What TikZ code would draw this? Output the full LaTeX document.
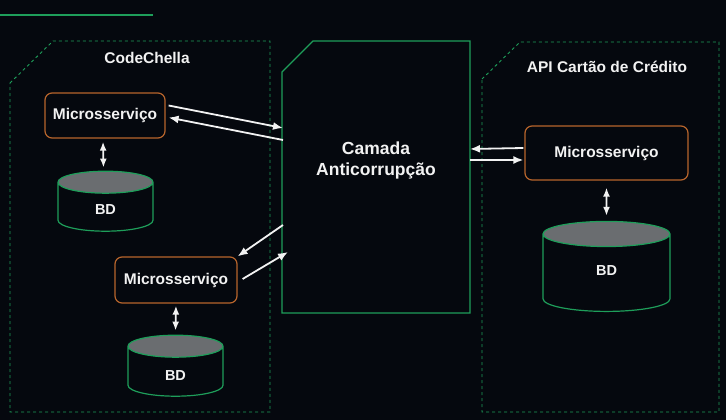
\documentclass[tikz,border=0pt]{standalone}
\usepackage{fontspec}
\setmainfont{Liberation Sans}
\usetikzlibrary{shapes.geometric,arrows.meta,calc}
\definecolor{bgdark}{HTML}{05080E}
\definecolor{edgegreen}{HTML}{1E9E5A}
\definecolor{msorange}{HTML}{B8652C}
\definecolor{bdgrey}{HTML}{6A6D70}
\definecolor{txtwhite}{HTML}{F2F2F2}
\tikzstyle{ms box}=[
        draw = msorange,
        line width = 1.2pt,
        rounded corners = 7pt,
        fill = bgdark,
        text = txtwhite,
        inner sep = 0pt,
        font = \bfseries\fontsize{15.5}{18}\selectfont
    ]
\tikzstyle{bd can}=[
        cylinder,
        shape border rotate = 90,
        draw = edgegreen,
        line width = 1.2pt,
        cylinder uses custom fill,
        cylinder end fill = bdgrey,
        cylinder body fill = bgdark,
        text = txtwhite,
        inner sep = 0pt,
        font = \bfseries\fontsize{14.5}{17}\selectfont
    ]
\newcommand{\bdlabel}[1]{\raisebox{-#1}[0pt][0pt]{BD}}

\begin{document}
\begin{tikzpicture}[x=1pt, y=1pt,
        zone/.style = {rectangle, inner sep = 0pt, outer sep = 0pt},
        zone edge/.style = {draw = edgegreen, line width = 0.9pt, dash pattern = on 3pt off 3pt},
        layer edge/.style = {draw = edgegreen, line width = 1.1pt},
        title/.style = {text = txtwhite, font = \bfseries\fontsize{15.5}{18}\selectfont},
        link/.style = {draw = txtwhite, line width = 1.8pt, -{Latex[length=10pt,width=8pt]}},
        both/.style = {draw = txtwhite, line width = 1.8pt, {Latex[length=9pt,width=7pt]}-{Latex[length=9pt,width=7pt]}}]
        \useasboundingbox (0,0) rectangle (726,420);
        \fill[bgdark] (0,0) rectangle (726,420);
        \draw[edgegreen, line width = 1.3pt] (0,405) -- (153,405);

        \node[zone, minimum width = 260pt, minimum height = 371pt] (codechella) at (140,193.5) {};
        \node[zone, minimum width = 237pt, minimum height = 370pt] (cartao) at (600.5,193) {};
        \node[zone, minimum width = 188pt, minimum height = 272pt] (camada) at (376,243) {};

        \draw[zone edge] ($(codechella.north west)+(0,-42)$) -- ($(codechella.north west)+(43,0)$)
            -- (codechella.north east) -- (codechella.south east) -- (codechella.south west) -- cycle;
        \draw[zone edge] ($(cartao.north west)+(0,-37)$) -- ($(cartao.north west)+(38,0)$)
            -- (cartao.north east) -- (cartao.south east) -- (cartao.south west) -- cycle;
        \draw[layer edge] ($(camada.north west)+(0,-31)$) -- ($(camada.north west)+(31,0)$)
            -- (camada.north east) -- (camada.south east) -- (camada.south west) -- cycle;

        \node[title] (codechella title) at (147,362) {CodeChella};
        \node[title] (cartao title) at (607,353) {API Cartão de Crédito};
        \node[text = txtwhite, align = center, font = \bfseries\fontsize{17.5}{21}\selectfont]
            (camada title) at (376,260) {Camada\\Anticorrupção};

        \node[ms box, minimum width = 120pt, minimum height = 45pt] (ms1) at (105,304.5) {Microsserviço};
        \node[ms box, minimum width = 122pt, minimum height = 46pt] (ms2) at (176,140) {Microsserviço};
        \node[ms box, minimum width = 163pt, minimum height = 54pt] (ms3) at (606.5,267) {Microsserviço};

        \node[bd can, aspect = 1.05, minimum width = 95pt, minimum height = 60pt] (bd1) at (105.5,213) {\bdlabel{8pt}};
        \node[bd can, aspect = 1.05, minimum width = 95pt, minimum height = 61pt] (bd2) at (175.5,48.5) {\bdlabel{9.5pt}};
        \node[bd can, aspect = 1.2, minimum width = 127pt, minimum height = 90pt] (bd3) at (606.5,147) {\bdlabel{3pt}};

        \draw[link] ($(ms1.east)+(3,10)$) -- ($(camada.west)+(1,49)$);
        \draw[link] ($(camada.west)+(1,37)$) -- ($(ms1.east)+(3,-2)$);
        \draw[link] ($(camada.west)+(1,-48)$) -- (ms2.north east);
        \draw[link] ($(ms2.east)+(5,1)$) -- ($(camada.west)+(6,-75)$);
        \draw[link] ($(ms3.west)+(-1,5)$) -- ($(camada.east)+(0,28)$);
        \draw[link] ($(camada.east)+(0,17)$) -- ($(ms3.west)+(-1,-7)$);
        \draw[both] ($(ms1.south)+(-2,-3)$) -- ($(bd1.north)+(-2,3)$);
        \draw[both] ($(ms2.south)+(0,-2)$) -- ($(bd2.north)+(0,4)$);
        \draw[both] ($(ms3.south)+(0,-7)$) -- ($(bd3.north)+(0,5)$);
    \end{tikzpicture}
\end{document}
